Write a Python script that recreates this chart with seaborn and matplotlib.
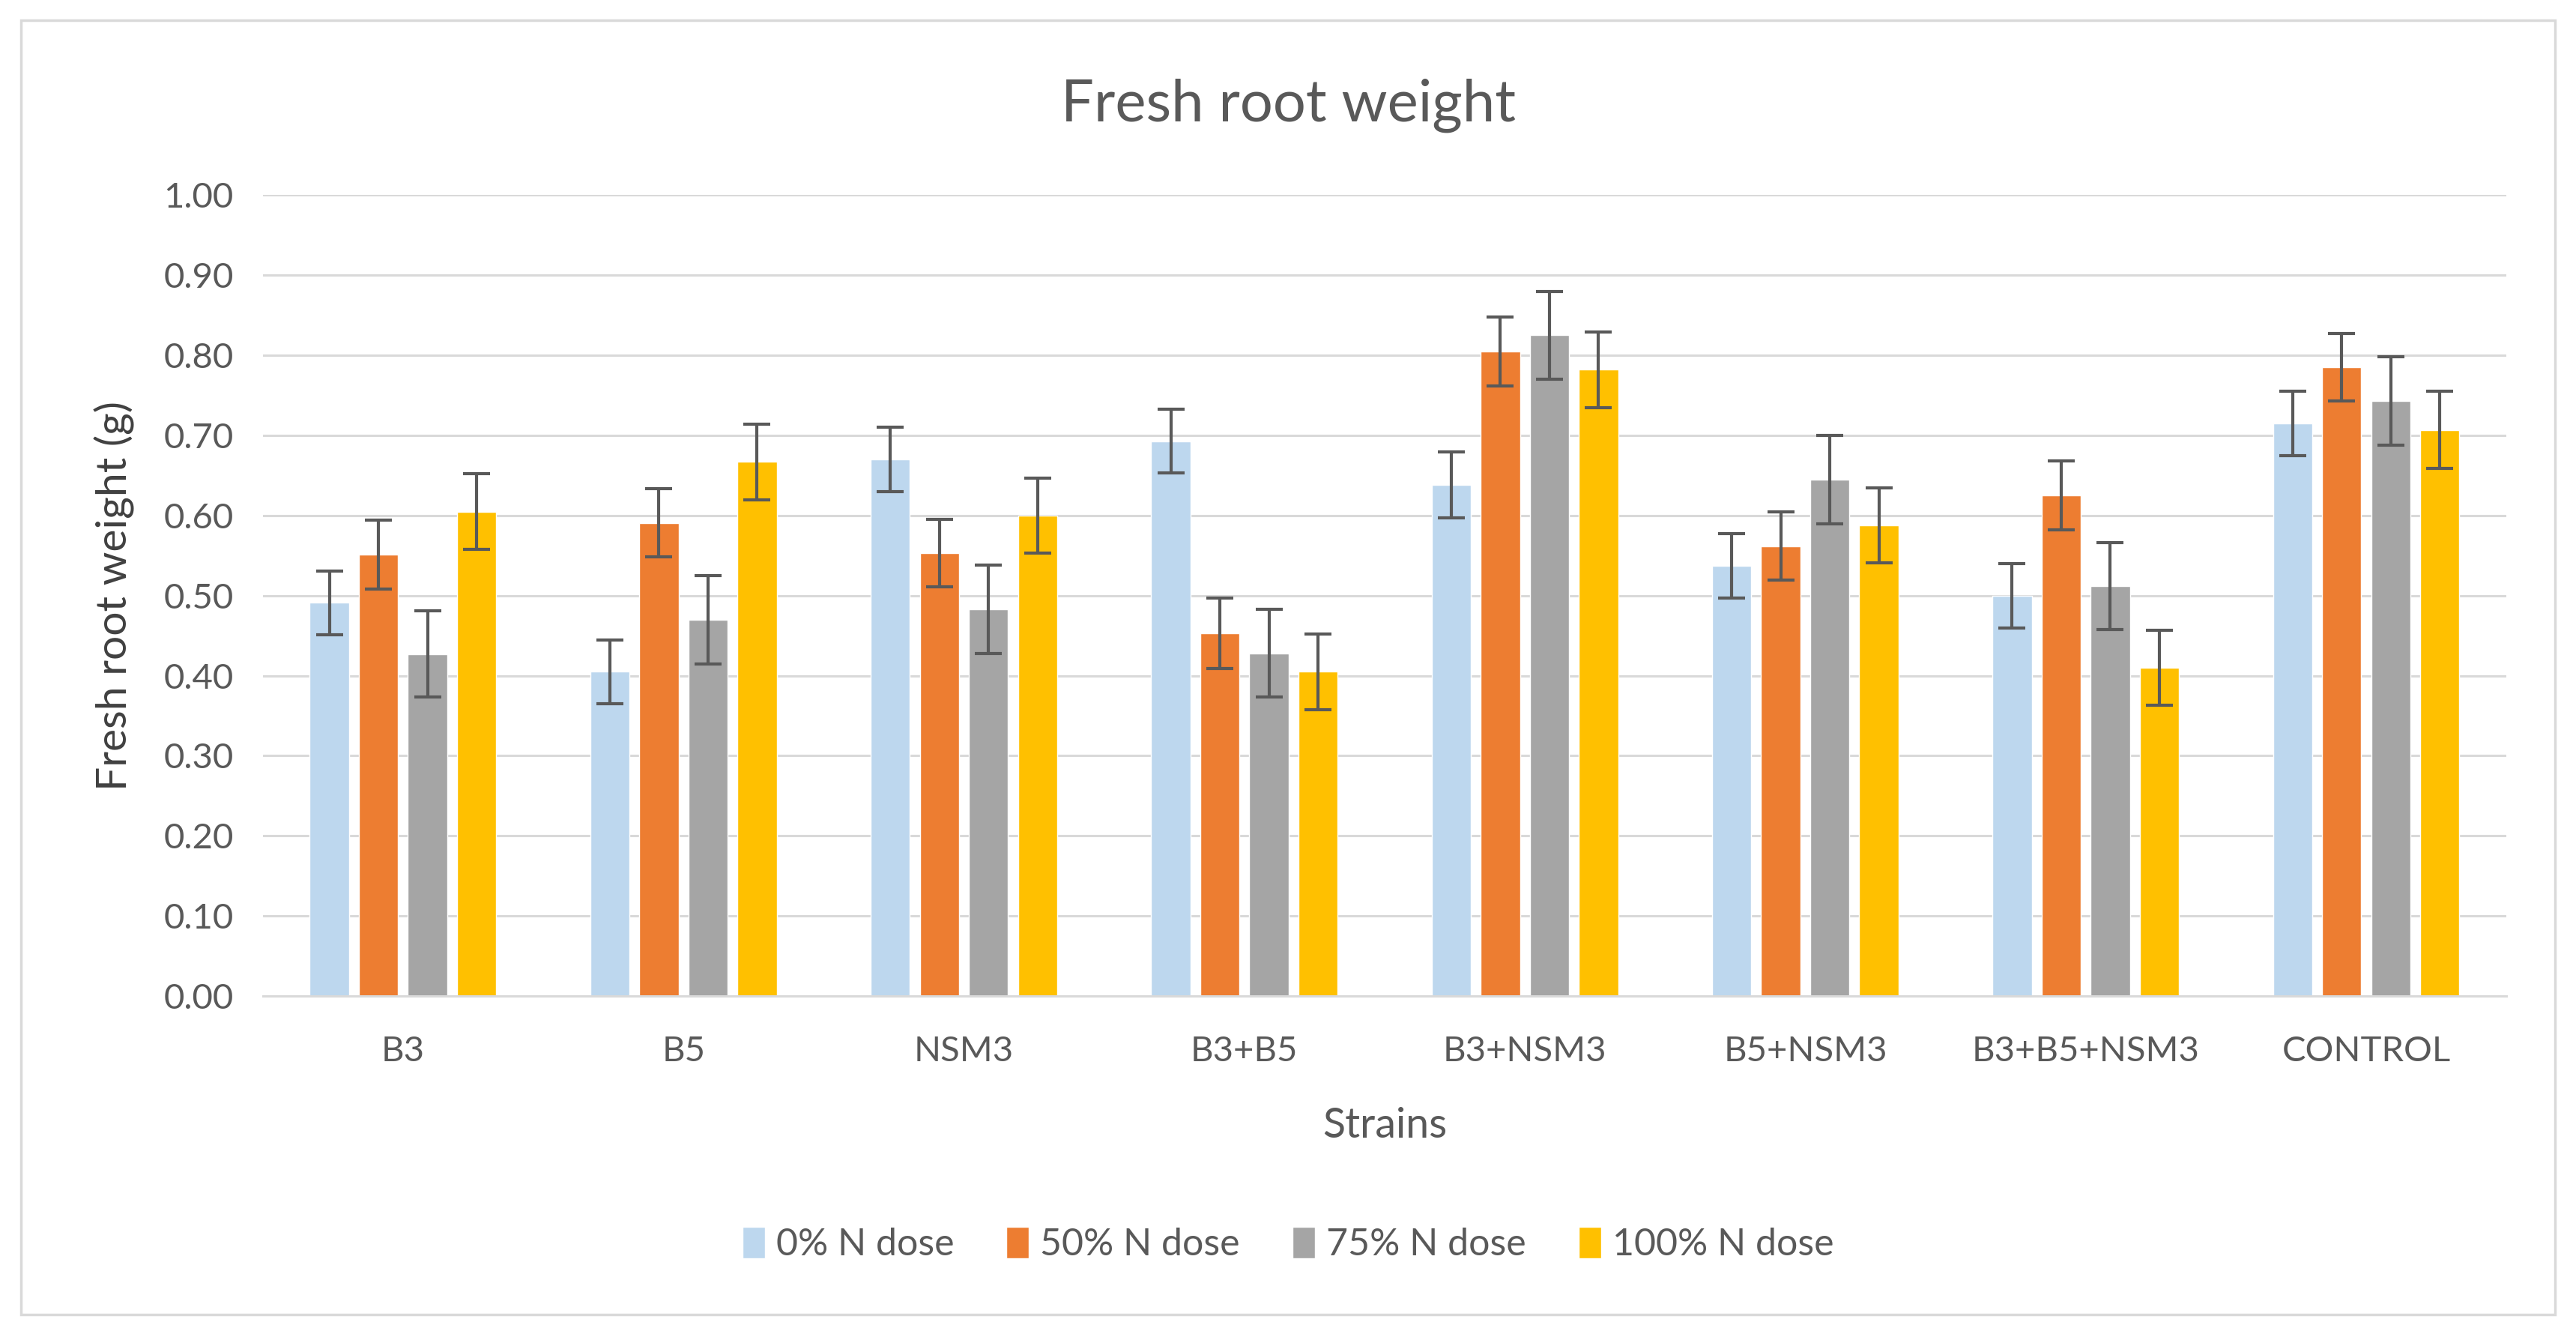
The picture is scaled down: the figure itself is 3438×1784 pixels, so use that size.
import matplotlib
matplotlib.use("Agg")
import matplotlib.pyplot as plt
import seaborn as sns
import pandas as pd
import numpy as np
from matplotlib.patches import Rectangle

strains = ["B3", "B5", "NSM3", "B3+B5", "B3+NSM3", "B5+NSM3", "B3+B5+NSM3", "CONTROL"]
doses = ["0% N dose", "50% N dose", "75% N dose", "100% N dose"]

dose0 = [0.491, 0.405, 0.670, 0.693, 0.638, 0.537, 0.500, 0.715]
dose50 = [0.551, 0.591, 0.553, 0.453, 0.805, 0.562, 0.625, 0.785]
dose75 = [0.427, 0.470, 0.483, 0.428, 0.825, 0.645, 0.512, 0.743]
dose100 = [0.605, 0.667, 0.600, 0.405, 0.782, 0.588, 0.410, 0.707]

err0 = [0.040, 0.040, 0.040, 0.040, 0.041, 0.040, 0.040, 0.040]
err50 = [0.043, 0.043, 0.042, 0.044, 0.043, 0.043, 0.043, 0.042]
err75 = [0.054, 0.055, 0.055, 0.055, 0.055, 0.055, 0.054, 0.055]
err100 = [0.047, 0.047, 0.047, 0.047, 0.047, 0.047, 0.047, 0.048]

colors = ["#BDD7EE", "#ED7D31", "#A5A5A5", "#FFC000"]

rows = []
for d, vals in zip(doses, [dose0, dose50, dose75, dose100]):
    for s, v in zip(strains, vals):
        rows.append({"Strain": s, "Dose": d, "Weight": v})
df = pd.DataFrame(rows)

sns.set_theme(style="white")
plt.rcParams["font.family"] = ["Lato", "DejaVu Sans"]

fig = plt.figure(figsize=(34.38, 17.84), dpi=100)
ax = fig.add_axes([0.102, 0.255, 0.871, 0.599])

sns.barplot(data=df, x="Strain", y="Weight", hue="Dose", order=strains,
            hue_order=doses, palette=colors, width=0.70, gap=0.2,
            errorbar=None, saturation=1, ax=ax, legend=True)

for cont, errs in zip(ax.containers, [err0, err50, err75, err100]):
    xs = [p.get_x() + p.get_width() / 2 for p in cont.patches]
    ys = [p.get_height() for p in cont.patches]
    ax.errorbar(xs, ys, yerr=errs, fmt="none", ecolor="#595959",
                elinewidth=3, capsize=13, capthick=3, zorder=5)

ax.set_ylim(0, 1.0)
ax.set_yticks(np.arange(0, 1.01, 0.1))
ax.set_yticklabels([f"{t:.2f}" for t in np.arange(0, 1.01, 0.1)])
ax.set_xlim(-0.5, len(strains) - 0.5)
ax.yaxis.grid(True, color="#D9D9D9", linewidth=2.2)
ax.set_axisbelow(True)
for sp in ["top", "right", "left"]:
    ax.spines[sp].set_visible(False)
ax.spines["bottom"].set_color("#D9D9D9")
ax.spines["bottom"].set_linewidth(2.2)
ax.tick_params(axis="both", length=0, labelsize=34, colors="#595959")
ax.tick_params(axis="x", pad=38)
ax.tick_params(axis="y", pad=28)

ax.set_xlabel("Strains", fontsize=40, color="#595959", labelpad=38)
ax.set_ylabel("Fresh root weight (g)", fontsize=41, color="#404040", labelpad=28)

fig.text(0.5, 0.921, "Fresh root weight", ha="center", va="center", fontsize=56, color="#595959")

handles, labels = ax.get_legend_handles_labels()
ax.get_legend().remove()
fig.legend(handles, labels, loc="center", bbox_to_anchor=(0.5, 0.069), ncol=4,
           frameon=False, fontsize=36, handlelength=0.6, handleheight=0.9,
           handletextpad=0.3, columnspacing=1.4, labelcolor="#595959")

fig.patches.append(Rectangle((0.008, 0.017), 0.984, 0.968, transform=fig.transFigure,
                             fill=False, edgecolor="#D9D9D9", linewidth=2.5))

fig.savefig("out.png", dpi=100, facecolor="white")
